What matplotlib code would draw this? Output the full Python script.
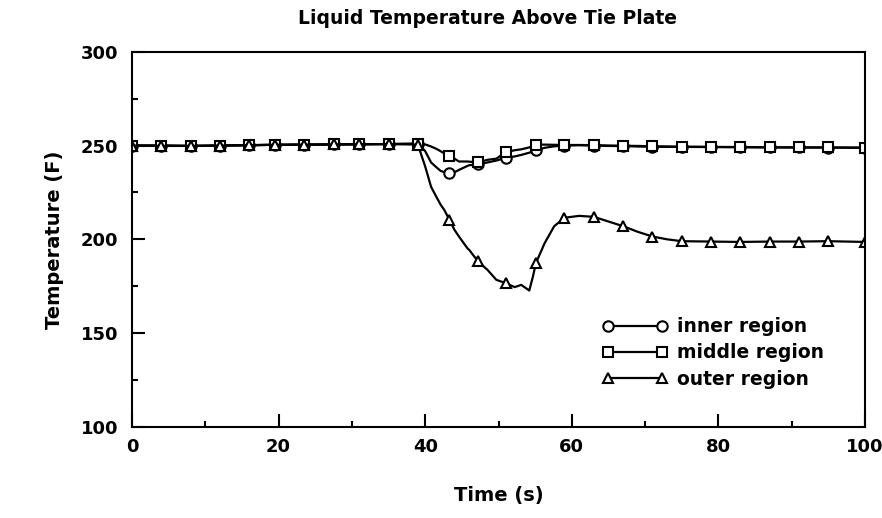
# liquid temperature above tie plate
# three regions: inner, middle, outer

import matplotlib
matplotlib.use('Agg')
import matplotlib.pyplot as plt
from matplotlib.ticker import MultipleLocator

# time grid (s): markers sit on the listed marker indexes
time = [0, 4, 8, 12, 16, 19.5, 23.5, 27.5, 31, 35, 39, 40, 40.8, 41.5,
        42.1, 42.6, 43.3, 44, 44.6, 45.8, 46, 47.2, 48.5, 49.7, 51, 52.2,
        53.1, 54.2, 54.7, 55.1, 56.3, 57.6, 59, 61, 63, 65, 67, 69, 71, 73,
        75, 79, 83, 87, 91, 95, 100]
marker_idx = [0, 1, 2, 3, 4, 5, 6, 7, 8, 9, 10, 16, 21, 24, 29, 32, 34,
              36, 38, 40, 41, 42, 43, 44, 45, 46]

# temperatures (F)
inner = [250, 250, 249.8, 250, 250.2, 250.4, 250.5, 250.6, 250.7, 250.8,
         251, 247, 241, 238.5, 236.5, 235.8, 235.3, 235.8, 237, 239.2,
         239.5, 240, 241, 242, 243.5, 244.2, 245, 246.2, 246.8, 247.5,
         248.8, 249.6, 250, 250.2, 250, 249.8, 249.7, 249.5, 249.4, 249.3,
         249.3, 249.2, 249.1, 249, 249, 248.9, 248.8]
middle = [250, 250, 249.8, 250, 250.2, 250.4, 250.5, 250.6, 250.7, 250.8,
          251, 250.6, 249.5, 248.3, 247, 245.8, 244.2, 243, 241.5, 241.5,
          241.4, 241, 242.4, 243, 246.5, 247.5, 248, 249, 249.8, 250.4,
          250.5, 250.4, 250.3, 250.3, 250.2, 250, 249.9, 249.8, 249.6,
          249.5, 249.4, 249.3, 249.2, 249.1, 249, 249, 248.9]
outer = [250, 249.8, 249.8, 250, 250.2, 250.4, 250.5, 250.6, 250.7, 250.8,
         250.5, 238.8, 228, 222.8, 218.5, 215.7, 210.4, 205, 201.5, 195,
         194.4, 188.2, 183.7, 178.4, 176.6, 174.5, 175.7, 172.7, 180.2,
         187.3, 198, 207, 211.5, 212.5, 212, 209.5, 207, 204, 201.5, 200,
         199, 198.8, 198.6, 198.8, 198.8, 199, 198.6]

labels = ['inner region', 'middle region', 'outer region']
markers = ['o', 's', '^']

plt.rcParams['font.family'] = ['DejaVu Sans']
plt.rcParams['font.weight'] = 'bold'

fig = plt.figure(figsize = (8.82, 5.18), dpi = 100)
ax = fig.add_axes([0.1497, 0.176, 0.831, 0.724])

for series, lab, mk in zip([inner, middle, outer], labels, markers):
    ax.plot(time, series, color = 'black', lw = 1.6, marker = mk,
            markevery = marker_idx, ms = 7.5, mfc = 'white', mec = 'black',
            mew = 1.5, label = lab)

# axes limits and ticks
ax.set_xlim(0, 100)
ax.set_ylim(100, 300)
ax.xaxis.set_major_locator(MultipleLocator(20))
ax.xaxis.set_minor_locator(MultipleLocator(10))
ax.yaxis.set_major_locator(MultipleLocator(50))
ax.yaxis.set_minor_locator(MultipleLocator(25))
ax.tick_params(which = 'both', direction = 'in', width = 1.5, labelsize = 13)
ax.tick_params(which = 'major', length = 9.5)
ax.tick_params(which = 'minor', length = 4)
ax.tick_params(axis = 'y', pad = 10)
ax.tick_params(axis = 'x', pad = 8)
for sp in ax.spines.values():
    sp.set_linewidth(1.5)

ax.set_xlabel('Time (s)', fontsize = 14, fontweight = 'bold', labelpad = 22)
ax.set_ylabel('Temperature (F)', fontsize = 14, fontweight = 'bold',
              labelpad = 12)
fig.text(488 / 882, 1 - 19 / 518, 'Liquid Temperature Above Tie Plate',
         ha = 'center', va = 'center', fontsize = 13.5, fontweight = 'bold')

leg = ax.legend(loc = 'center left', bbox_to_anchor = (593 / 882, 1 - 353 / 518),
                bbox_transform = fig.transFigure, borderpad = 0,
                frameon = False, numpoints = 2, handlelength = 3.5,
                handletextpad = 0.5, labelspacing = 0.38,
                prop = {'size': 13.5, 'weight': 'bold'})

fig.savefig('out.png', dpi = 100)
